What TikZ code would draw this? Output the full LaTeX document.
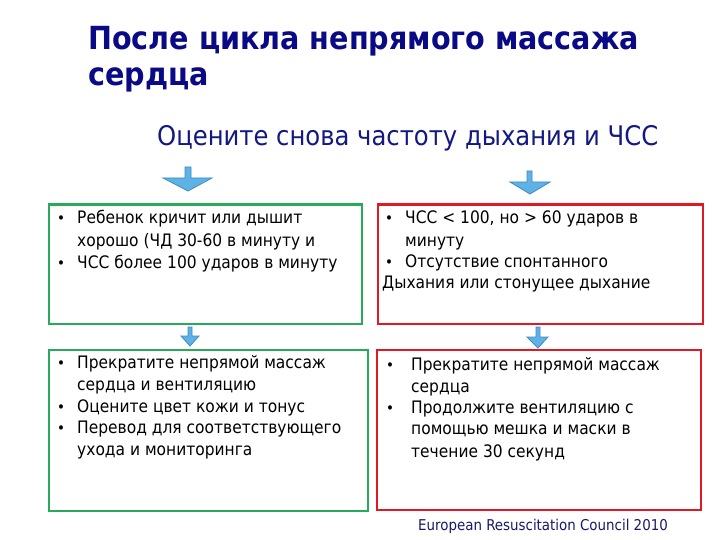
\documentclass[tikz,border=0pt]{standalone}
\usepackage{fontspec}
\setmainfont{DejaVu Sans Condensed}
\definecolor{grn}{RGB}{40,170,90}
\definecolor{rd}{RGB}{225,25,35}
\definecolor{navy}{RGB}{10,10,135}
\definecolor{subnavy}{RGB}{20,25,130}
\definecolor{foot}{RGB}{25,25,105}
\definecolor{arrfill}{RGB}{95,178,228}
\definecolor{arrdraw}{RGB}{60,140,200}
\begin{document}
\begin{tikzpicture}[x=1pt,y=-1pt,
  txt/.style={anchor=base west, inner sep=0pt, font=\fontsize{17.2}{20}\selectfont},
  bul/.style={anchor=base west, inner sep=0pt, font=\fontsize{15}{20}\selectfont},
  gbox/.style={draw=grn, line width=2.3pt, anchor=north west, inner sep=0pt},
  rbox/.style={draw=rd, line width=2.3pt, anchor=north west, inner sep=0pt},
  blockarrow/.style={fill=arrfill, draw=arrdraw, line width=0.8pt, line join=miter}]
\useasboundingbox[fill=white] (0,0) rectangle (720,540);

% title
\node[anchor=base west, inner sep=0pt, text=navy, font=\fontsize{31.8}{36}\selectfont\bfseries] (t1) at (88,50) {После цикла непрямого массажа};
\node[anchor=base west, inner sep=0pt, text=navy, font=\fontsize{31.8}{36}\selectfont\bfseries] (t2) at (88,86) {сердца};
\node[anchor=base west, inner sep=0pt, text=subnavy, font=\fontsize{27}{30}\selectfont] (sub) at (157,146) {Оцените снова частоту дыхания и ЧСС};

% boxes
\node[gbox, minimum width=313pt, minimum height=119pt] (b1) at (48,203.5) {};
\node[rbox, minimum width=325pt, minimum height=119pt] (b2) at (377,203.5) {};
\node[gbox, minimum width=319pt, minimum height=161pt] (b3) at (48,348.5) {};
\node[rbox, minimum width=324pt, minimum height=160pt] (b4) at (376,349) {};

% block arrows
\draw[blockarrow] (185,167) -- (191,167) -- (191,178) -- (212,178) -- (188,191) -- (163,178) -- (185,178) -- cycle;
\draw[blockarrow] (527,171) -- (532,171) -- (532,182) -- (550,182) -- (530,194) -- (510,182) -- (527,182) -- cycle;
\draw[blockarrow] (188,327) -- (192,327) -- (192,336) -- (199,336) -- (190,346) -- (181,336) -- (188,336) -- cycle;
\draw[blockarrow] (536,327) -- (540,327) -- (540,337) -- (548,337) -- (538,348) -- (527,337) -- (536,337) -- cycle;

% box 1
\node[bul] (b1a) at (57,224) {•};
\node[txt] (b1l1) at (77,224) {Ребенок кричит или дышит};
\node[txt] (b1l2) at (77,246) {хорошо (ЧД 30-60 в минуту и};
\node[bul] (b1b) at (57,268) {•};
\node[txt] (b1l3) at (77,268) {ЧСС более 100 ударов в минуту};

% box 2
\node[bul] (b2a) at (385,224) {•};
\node[txt] (b2l1) at (405,224) {ЧСС < 100, но > 60 ударов в};
\node[txt] (b2l2) at (405,246) {минуту};
\node[bul] (b2b) at (385,267) {•};
\node[txt] (b2l3) at (405,267) {Отсутствие спонтанного};
\node[txt] (b2l4) at (382,288) {Дыхания или стонущее дыхание};

% box 3
\node[bul] (b3a) at (57,368) {•};
\node[txt] (b3l1) at (77,368) {Прекратите непрямой массаж};
\node[txt] (b3l2) at (77,390) {сердца и вентиляцию};
\node[bul] (b3b) at (57,412) {•};
\node[txt] (b3l3) at (77,412) {Оцените цвет кожи и тонус};
\node[bul] (b3c) at (57,433) {•};
\node[txt] (b3l4) at (77,433) {Перевод для соответствующего};
\node[txt] (b3l5) at (77,455) {ухода и мониторинга};

% box 4
\node[bul] (b4a) at (386,370) {•};
\node[txt] (b4l1) at (411,370) {Прекратите непрямой массаж};
\node[txt] (b4l2) at (411,392) {сердца};
\node[bul] (b4b) at (386,413) {•};
\node[txt] (b4l3) at (411,413) {Продолжите вентиляцию с};
\node[txt] (b4l4) at (411,434) {помощью мешка и маски в};
\node[txt] (b4l5) at (411,457) {течение 30 секунд};

% footer
\node[anchor=base west, inner sep=0pt, text=foot, font=\fontsize{14.9}{17}\selectfont] (ft) at (418,530) {European Resuscitation Council 2010};
\end{tikzpicture}
\end{document}
